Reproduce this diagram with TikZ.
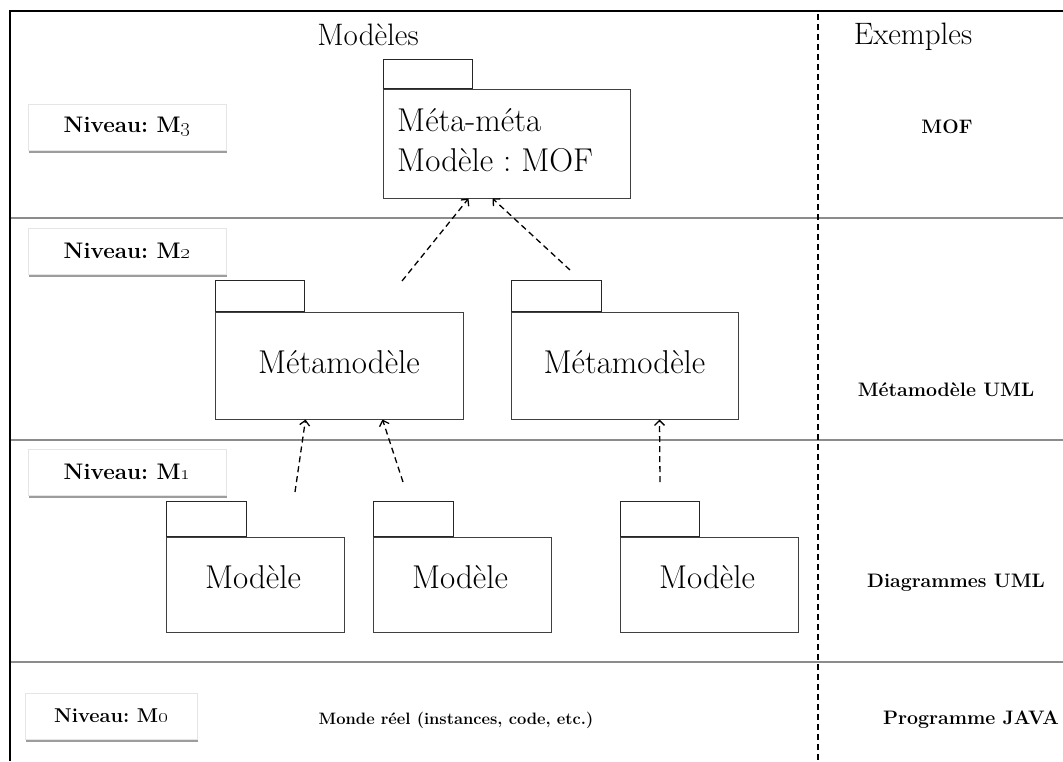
\documentclass[tikz,border=0pt]{standalone}
\usetikzlibrary{arrows.meta,shadows}
\begin{document}
\frenchspacing
\begin{tikzpicture}[x=1pt,y=-1pt,
  lvl/.style={draw=black!10, fill=white, drop shadow={shadow xshift=0.5pt,shadow yshift=-2.5pt,fill=black!55,opacity=0.7}, font=\fontsize{22.5}{27}\selectfont\bfseries, minimum height=46pt, inner sep=0pt},
  pkgbody/.style={draw=black!75, line width=1pt, fill=white, font=\fontsize{33}{40}\selectfont, inner sep=0pt},
  pkgtab/.style={draw=black!85, line width=1pt, inner sep=0pt},
  pkgtext/.style={font=\fontsize{33}{40}\selectfont},
  dep/.style={line width=1.3pt, dash pattern=on 6pt off 4pt, -{Straight Barb[length=5pt,width=10pt]}},
  sep/.style={draw=black!45, line width=1.5pt},
  head/.style={font=\fontsize{31}{36}\selectfont},
  ex/.style={font=\fontsize{19.5}{23}\selectfont\bfseries}
]
\useasboundingbox (0,0) rectangle (1063,761);
% frame
\coordinate (tl) at (10,11);
\coordinate (tr) at (1063,11);
\coordinate (bl) at (10,761);
\draw[line width=2.5pt] (bl) -- (tl) -- (tr);
\draw[sep] (11,218) -- (1063,218);
\draw[sep] (11,440) -- (1063,440);
\draw[sep] (11,662) -- (1063,662);
\draw[line width=1.5pt, dash pattern=on 6pt off 4pt] (818,14) -- (818,761);

% headings
\node[head] (hm) at (368,35) {Modèles};
\node[head] (he) at (913,37) {Exemples};

% level labels
\node[lvl, minimum width=198pt] (l3) at (127,127) {Niveau: M\oldstylenums{3}};
\node[lvl, minimum width=198pt] (l2) at (127,251) {Niveau: M\oldstylenums{2}};
\node[lvl, minimum width=198pt] (l1) at (127,472) {Niveau: M\oldstylenums{1}};
\node[lvl, minimum width=172pt, font=\fontsize{20}{24}\selectfont\bfseries] (l0) at (111,716) {Niveau: M\oldstylenums{0}};

% examples
\node[ex] (exm) at (947,127) {MOF};
\node[ex] (emm) at (946,390) {Métamodèle UML};
\node[ex] (ed) at (956,583) {Diagrammes UML};
\node[ex] (ep) at (971,720) {Programme JAVA};
\node[ex, font=\fontsize{16.5}{20}\selectfont\bfseries] (m0) at (456,720) {Monde réel (instances, code, etc.)};

% packages
\node[pkgbody, minimum width=247pt, minimum height=109pt] (mof) at (506.5,143.5) {};
\node[pkgtext, anchor=west, align=left, inner sep=0pt] (moftext) at (397,140) {Méta-méta\\Modèle : MOF};
\node[pkgtab, minimum width=89pt, minimum height=29pt, anchor=south west] (moftab) at (mof.north west) {};

\node[pkgbody, minimum width=248pt, minimum height=107pt,
      label={[pkgtext, yshift=3pt]center:Métamodèle}] (mmL) at (339,365.5) {};
\node[pkgtab, minimum width=89pt, minimum height=31pt, anchor=south west] (mmLtab) at (mmL.north west) {};

\node[pkgbody, minimum width=227pt, minimum height=107pt,
      label={[pkgtext, yshift=3pt]center:Métamodèle}] (mmR) at (624.5,365.5) {};
\node[pkgtab, minimum width=90pt, minimum height=31pt, anchor=south west] (mmRtab) at (mmR.north west) {};

\node[pkgbody, minimum width=178pt, minimum height=95pt,
      label={[pkgtext, yshift=7pt, xshift=-2pt]center:Modèle}] (md1) at (255,584.5) {};
\node[pkgtab, minimum width=80pt, minimum height=35pt, anchor=south west] (md1tab) at (md1.north west) {};

\node[pkgbody, minimum width=178pt, minimum height=95pt,
      label={[pkgtext, yshift=7pt, xshift=-2pt]center:Modèle}] (md2) at (462,584.5) {};
\node[pkgtab, minimum width=80pt, minimum height=35pt, anchor=south west] (md2tab) at (md2.north west) {};

\node[pkgbody, minimum width=178pt, minimum height=95pt,
      label={[pkgtext, yshift=7pt, xshift=-2pt]center:Modèle}] (md3) at (709,584.5) {};
\node[pkgtab, minimum width=79pt, minimum height=35pt, anchor=south west] (md3tab) at (md3.north west) {};

% dependencies
\coordinate (a1) at (402,281);
\coordinate (a2) at (570,270);
\coordinate (b1) at (295,492);
\coordinate (b2) at (403,482);
\coordinate (c1) at (660,482);
\draw[dep] (a1) -- ([xshift=86pt]mof.south west);
\draw[dep] (a2) -- ([xshift=110pt]mof.south west);
\draw[dep] (b1) -- ([xshift=91pt]mmL.south west);
\draw[dep] (b2) -- ([xshift=168pt]mmL.south west);
\draw[dep] (c1) -- ([xshift=149pt]mmR.south west);
\end{tikzpicture}
\end{document}
